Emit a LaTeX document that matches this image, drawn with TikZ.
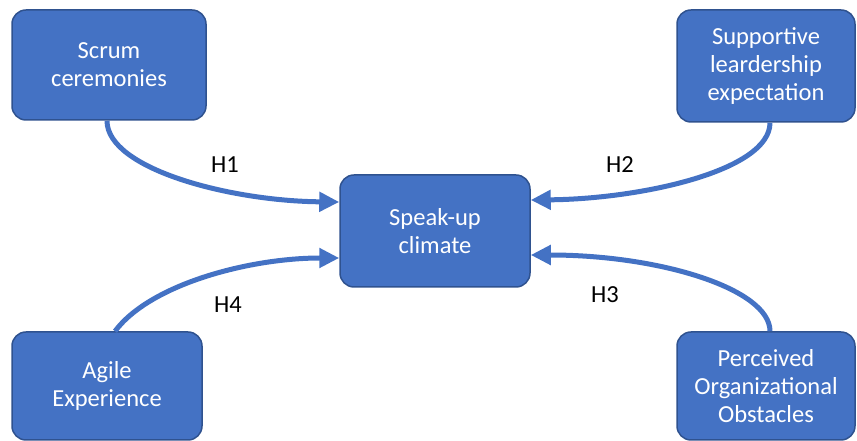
\documentclass[tikz,border=0pt]{standalone}
\usepackage{fontspec}
\setmainfont{Carlito}
\usetikzlibrary{arrows.meta}
\definecolor{boxblue}{HTML}{4472C4}
\definecolor{boxedge}{HTML}{2F528F}

\begin{document}
\begin{tikzpicture}[x=1pt,y=1pt,
  box/.style={draw=boxedge,line width=1.5pt,fill=boxblue,rounded corners=14pt,
    text=white,align=center,inner sep=0pt,
    font=\fontsize{24.5}{28}\selectfont},
  link/.style={draw=boxblue,line width=5pt,-{Triangle[length=20pt,width=19pt]}},
  hyp/.style={font=\fontsize{24.5}{28}\selectfont,text=black}]
  \useasboundingbox (0,0) rectangle (857,441);

  % Constructs
  \node[box,minimum width=194pt,minimum height=110pt] (scrum) at (109,376) {Scrum\\ceremonies};
  \node[box,minimum width=178pt,minimum height=112pt] (lead) at (766,375) {Supportive\\leardership\\expectation};
  \node[box,minimum width=190pt,minimum height=112pt] (speak) at (435,210) {Speak-up\\climate};
  \node[box,minimum width=190pt,minimum height=108pt] (agile) at (107,55) {Agile\\Experience};
  \node[box,minimum width=178pt,minimum height=108pt] (obst) at (766,55) {Perceived\\Organizational\\Obstacles};

  % Hypotheses
  \draw[link] ([xshift=-2pt]scrum.south) .. controls +(0,-48) and +(-110,1) .. ([yshift=29pt]speak.west);
  \draw[link] ([xshift=4pt]lead.south) .. controls +(0,-48) and +(110,1) .. ([yshift=31pt]speak.east);
  \draw[link] ([xshift=8pt]agile.north) .. controls +(35,47) and +(-90,0) .. ([yshift=-27pt]speak.west);
  \draw[link] ([xshift=4pt]obst.north) .. controls +(0,42) and +(130,0) .. ([yshift=-24pt]speak.east);

  \node[hyp] (h1) at (225,276) {H1};
  \node[hyp] (h2) at (620,276) {H2};
  \node[hyp] (h4) at (228,136) {H4};
  \node[hyp] (h3) at (605,146) {H3};
\end{tikzpicture}
\end{document}
